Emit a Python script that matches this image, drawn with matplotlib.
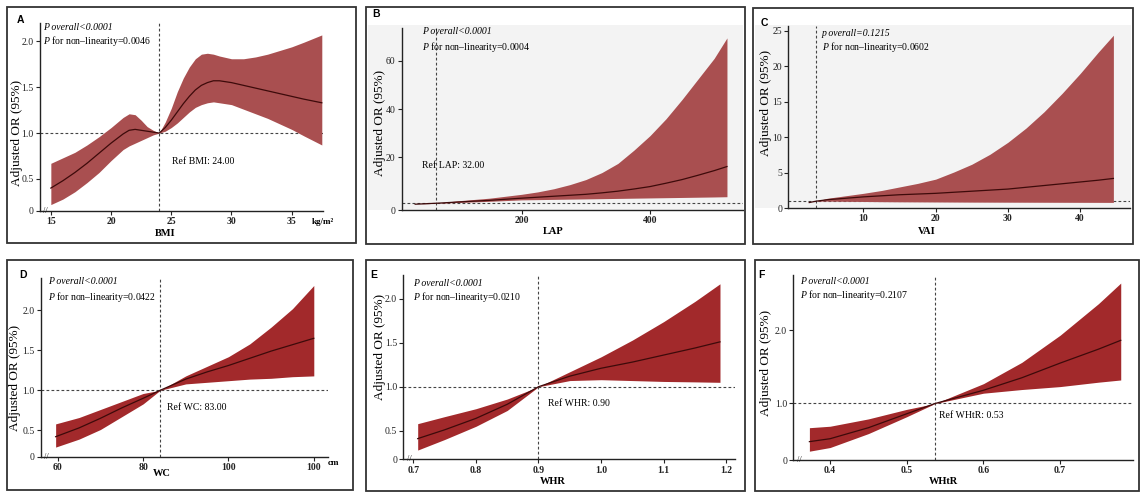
import matplotlib
matplotlib.use("Agg")
import matplotlib.pyplot as plt
from matplotlib.patches import Rectangle

plt.rcParams['font.family'] = 'Liberation Serif'
plt.rcParams['mathtext.fontset'] = 'custom'
plt.rcParams['mathtext.it'] = 'Liberation Serif:italic'
plt.rcParams['mathtext.rm'] = 'Liberation Serif'

W, H = 1140, 493

# ---- data ----
bmi_x = [15, 16, 17, 18, 19, 20, 21, 21.5, 22, 22.5, 23, 23.5, 24, 24.5, 25, 25.5, 26, 26.5,
         27, 27.5, 28, 28.5, 29, 30, 31, 32, 33, 34, 35, 36, 37.5]
bmi_or = [0.40, 0.48, 0.57, 0.67, 0.78, 0.89, 0.99, 1.03, 1.04, 1.03, 1.02, 1.01, 1.00, 1.06, 1.14,
          1.23, 1.32, 1.40, 1.47, 1.52, 1.55, 1.57, 1.57, 1.55, 1.52, 1.49, 1.46, 1.43, 1.40, 1.37, 1.33]
bmi_hi = [0.67, 0.73, 0.79, 0.87, 0.96, 1.06, 1.17, 1.21, 1.20, 1.14, 1.07, 1.03, 1.00, 1.12, 1.27,
          1.45, 1.60, 1.72, 1.81, 1.86, 1.87, 1.86, 1.84, 1.81, 1.81, 1.83, 1.86, 1.90, 1.94, 1.99, 2.07]
bmi_lo = [0.22, 0.28, 0.36, 0.46, 0.57, 0.70, 0.82, 0.86, 0.89, 0.92, 0.95, 0.98, 1.00, 1.02, 1.06,
          1.11, 1.17, 1.23, 1.28, 1.31, 1.33, 1.34, 1.33, 1.31, 1.26, 1.21, 1.16, 1.10, 1.04, 0.97, 0.87]

lap_x = [34, 50, 67, 100, 150, 200, 225, 250, 275, 300, 325, 350, 375, 400, 425, 450, 475, 500, 520]
lap_or = [0.6, 0.8, 1.0, 1.5, 2.2, 3.1, 3.5, 3.9, 4.3, 4.7, 5.3, 6.0, 6.9, 7.9, 9.3, 10.8, 12.6, 14.5, 16.2]
lap_hi = [0.6, 0.9, 1.0, 2.0, 3.1, 4.7, 5.7, 7.0, 8.7, 10.8, 13.7, 17.5, 23.0, 29.0, 36.0, 44.0, 52.5, 61.0, 69.5]
lap_lo = [0.6, 0.8, 1.0, 1.3, 1.8, 2.4, 2.5, 2.6, 2.7, 2.8, 2.9, 3.0, 3.1, 3.2, 3.3, 3.4, 3.5, 3.6, 3.7]

vai_x = [2.5, 3.5, 5, 7.5, 10, 12.5, 15, 17.5, 20, 22.5, 25, 27.5, 30, 32.5, 35, 37.5, 40, 42.5, 44.6]
vai_or = [0.8, 1.0, 1.2, 1.4, 1.6, 1.75, 1.9, 2.0, 2.1, 2.25, 2.4, 2.55, 2.7, 2.95, 3.2, 3.45, 3.7, 3.95, 4.2]
vai_hi = [0.8, 1.0, 1.4, 1.75, 2.1, 2.5, 3.0, 3.5, 4.1, 5.1, 6.2, 7.6, 9.3, 11.3, 13.6, 16.2, 19.0, 22.0, 24.4]
vai_lo = [0.8, 1.0, 1.0, 0.97, 0.95, 0.92, 0.9, 0.89, 0.88, 0.87, 0.86, 0.855, 0.85, 0.845, 0.84, 0.835,
          0.83, 0.825, 0.82]

wc_x = [59.5, 65, 70, 75, 80, 84, 90, 95, 100, 105, 110, 115, 120]
wc_or = [0.42, 0.53, 0.65, 0.78, 0.90, 1.00, 1.14, 1.23, 1.31, 1.40, 1.49, 1.57, 1.65]
wc_hi = [0.58, 0.66, 0.76, 0.86, 0.96, 1.00, 1.18, 1.30, 1.42, 1.58, 1.79, 2.02, 2.31]
wc_lo = [0.29, 0.39, 0.51, 0.67, 0.83, 1.00, 1.08, 1.10, 1.12, 1.14, 1.15, 1.17, 1.18]

whr_x = [0.707, 0.75, 0.8, 0.85, 0.9, 0.95, 1.0, 1.05, 1.1, 1.15, 1.19]
whr_or = [0.41, 0.51, 0.64, 0.80, 1.00, 1.12, 1.21, 1.28, 1.36, 1.44, 1.51]
whr_hi = [0.58, 0.66, 0.75, 0.86, 1.00, 1.17, 1.34, 1.53, 1.74, 1.97, 2.17]
whr_lo = [0.28, 0.40, 0.55, 0.73, 1.00, 1.07, 1.08, 1.07, 1.06, 1.055, 1.05]

whtr_x = [0.373, 0.4, 0.45, 0.5, 0.537, 0.6, 0.65, 0.7, 0.75, 0.779]
whtr_or = [0.48, 0.52, 0.67, 0.86, 1.00, 1.18, 1.35, 1.55, 1.74, 1.86]
whtr_hi = [0.67, 0.69, 0.79, 0.92, 1.00, 1.27, 1.56, 1.93, 2.36, 2.64]
whtr_lo = [0.35, 0.40, 0.59, 0.82, 1.00, 1.14, 1.19, 1.23, 1.29, 1.32]

# ticks / labels
bmi_xt = [15, 20, 25, 30, 35]
lap_xt = [200, 400]
vai_xt = [10, 20, 30, 40]
wc_xt = [60, 80, 100, 120]
wc_xtl = ["60", "80", "100", "100"]
whr_xt = [0.7, 0.8, 0.9, 1.0, 1.1, 1.2]
whtr_xt = [0.4, 0.5, 0.6, 0.7]

NL = "$\\it{P}$ for non\u2013linearity="


def fx(x):
    return x / W


def fy(y):
    return 1 - y / H


def box(fig, x0, y0, x1, y1, **kw):
    r = Rectangle((fx(x0), fy(y1)), (x1 - x0) / W, (y1 - y0) / H,
                  transform=fig.transFigure, **kw)
    fig.add_artist(r)


def panel(fig, rect, x, y, hi, lo, xlim, ylim, xt, xtl, yt, ref, color,
          p1, p2, reftxt, xlabel, letter, pos, brk=True):
    l, b, r, t = rect
    ax = fig.add_axes([fx(l), fy(b), (r - l) / W, (b - t) / H])
    ax.set_facecolor('none')
    ax.fill_between(x, lo, hi, color=color, lw=0)
    ax.plot(x, y, color='#3d0a0a', lw=0.9)
    ax.axhline(1, color='#444444', lw=0.8, ls=(0, (2.5, 2)), zorder=0.5)
    ax.axvline(ref, color='#444444', lw=0.8, ls=(0, (2.5, 2)), zorder=0.5)
    ax.set_xlim(*xlim)
    ax.set_ylim(*ylim)
    for s in ['top', 'right']:
        ax.spines[s].set_visible(False)
    for s in ['left', 'bottom']:
        ax.spines[s].set_linewidth(1.0)
        ax.spines[s].set_color('#222222')
    ax.set_xticks(xt)
    ax.set_xticklabels(xtl if xtl else [f"{v:g}" if v >= 10 else f"{v:.1f}" for v in xt],
                       fontweight='bold')
    ax.set_yticks([ylim[0]] + yt)
    ax.set_yticklabels(["0"] + [f"{v:.1f}" if v < 5 else f"{v:g}" for v in yt])
    ax.tick_params(length=3, width=0.8, labelsize=7, pad=1.5, colors='#222222')
    ax.tick_params(axis='x', labelsize=7, pad=1.5)
    if brk:
        ax.text(0.012, 0, "//", transform=ax.transAxes, fontsize=6,
                ha='left', va='center', color='#222222')

    fig.text(fx(pos['p'][0]), fy(pos['p'][1]), p1, fontsize=7, style='italic',
             va='center', ha='left')
    fig.text(fx(pos['p'][0]), fy(pos['p'][1] + 14.5), NL + p2, fontsize=7,
             va='center', ha='left')
    if reftxt:
        fig.text(fx(pos['ref'][0]), fy(pos['ref'][1]), reftxt, fontsize=7,
                 va='center', ha='left')
    fig.text(fx(pos['yl'][0]), fy(pos['yl'][1]), "Adjusted OR (95%)", fontsize=9.5,
             rotation=90, va='center', ha='center')
    fig.text(fx(pos['xl'][0]), fy(pos['xl'][1]), xlabel, fontsize=7.5,
             fontweight='bold', va='center', ha='center')
    fig.text(fx(pos['let'][0]), fy(pos['let'][1]), letter, fontsize=7.5,
             fontweight='bold', family='Liberation Sans', va='center', ha='center')
    return ax


fig = plt.figure(figsize=(W / 100, H / 100), dpi=100)

light = '#a94f50'
dark = '#a2292b'

# panel frames
box(fig, 7, 7, 356, 243, fill=False, lw=1.3, ec='#333333')
box(fig, 366, 7, 745, 244, fill=False, lw=1.3, ec='#333333')
box(fig, 753, 8, 1133, 244, fill=False, lw=1.3, ec='#333333')
box(fig, 7, 260, 353, 490, fill=False, lw=1.3, ec='#333333')
box(fig, 366, 260, 745, 491, fill=False, lw=1.3, ec='#333333')
box(fig, 755, 260, 1139, 491, fill=False, lw=1.3, ec='#333333')
# light grey plot backgrounds of B and C
box(fig, 368, 25, 743, 210, fc='#f3f3f3', ec='none', zorder=-1)
box(fig, 755, 25, 1131, 208, fc='#f3f3f3', ec='none', zorder=-1)

axA = panel(fig, (40, 211, 323, 23), bmi_x, bmi_or, bmi_hi, bmi_lo,
            (14.1, 37.6), (0.15, 2.2), bmi_xt, None, [0.5, 1.0, 1.5, 2.0], 24, light,
            "P overall<0.0001", "0.0046", "Ref BMI: 24.00", "BMI", "A",
            {'p': (43, 27), 'ref': (172, 161), 'yl': (17, 133), 'xl': (165, 233), 'let': (20, 20)})
fig.text(fx(323), fy(222), "kg/m\u00b2", fontsize=6.5, fontweight='bold', ha='center', va='center')

axB = panel(fig, (401.7, 210, 743, 28), lap_x, lap_or, lap_hi, lap_lo,
            (13, 545), (-1.8, 73.6), lap_xt, None, [20, 40, 60], 67, light,
            "P overall<0.0001", "0.0004", "Ref LAP: 32.00", "LAP", "B",
            {'p': (422, 32), 'ref': (422, 166), 'yl': (380, 123), 'xl': (553, 232), 'let': (376, 14)},
            brk=False)

axC = panel(fig, (788.3, 208, 1130, 26), vai_x, vai_or, vai_hi, vai_lo,
            (-0.4, 46.9), (0.03, 25.7), vai_xt, None, [5, 10, 15, 20, 25], 3.4, light,
            "p overall=0.1215", "0.0602", None, "VAI", "C",
            {'p': (822, 33), 'yl': (766, 103), 'xl': (927, 231), 'let': (764, 23)},
            brk=False)

axD = panel(fig, (40.7, 456.7, 328.3, 278.3), wc_x, wc_or, wc_hi, wc_lo,
            (56, 123.4), (0.17, 2.4), wc_xt, wc_xtl, [0.5, 1.0, 1.5, 2.0], 84, dark,
            "P overall<0.0001", "0.0422", "Ref WC: 83.00", "WC", "D",
            {'p': (48, 282), 'ref': (167, 408), 'yl': (15, 378), 'xl': (162, 473), 'let': (23, 275)})
fig.text(fx(333), fy(463), "cm", fontsize=6.5, fontweight='bold', ha='center', va='center')

axE = panel(fig, (403.3, 459.3, 735, 275), whr_x, whr_or, whr_hi, whr_lo,
            (0.684, 1.214), (0.175, 2.27), whr_xt, None, [0.5, 1.0, 1.5, 2.0], 0.9, dark,
            "P overall<0.0001", "0.0210", "Ref WHR: 0.90", "WHR", "E",
            {'p': (413, 283), 'ref': (548, 403), 'yl': (380, 347), 'xl': (553, 482), 'let': (374, 275)})

axF = panel(fig, (793.3, 460, 1133, 275), whtr_x, whtr_or, whtr_hi, whtr_lo,
            (0.352, 0.795), (0.23, 2.75), whtr_xt, None, [1.0, 2.0], 0.537, dark,
            "P overall<0.0001", "0.2107", "Ref WHtR: 0.53", "WHtR", "F",
            {'p': (800, 281), 'ref': (939, 416), 'yl': (766, 363), 'xl': (943, 482), 'let': (761, 275)})

fig.savefig("out.png", dpi=100)
